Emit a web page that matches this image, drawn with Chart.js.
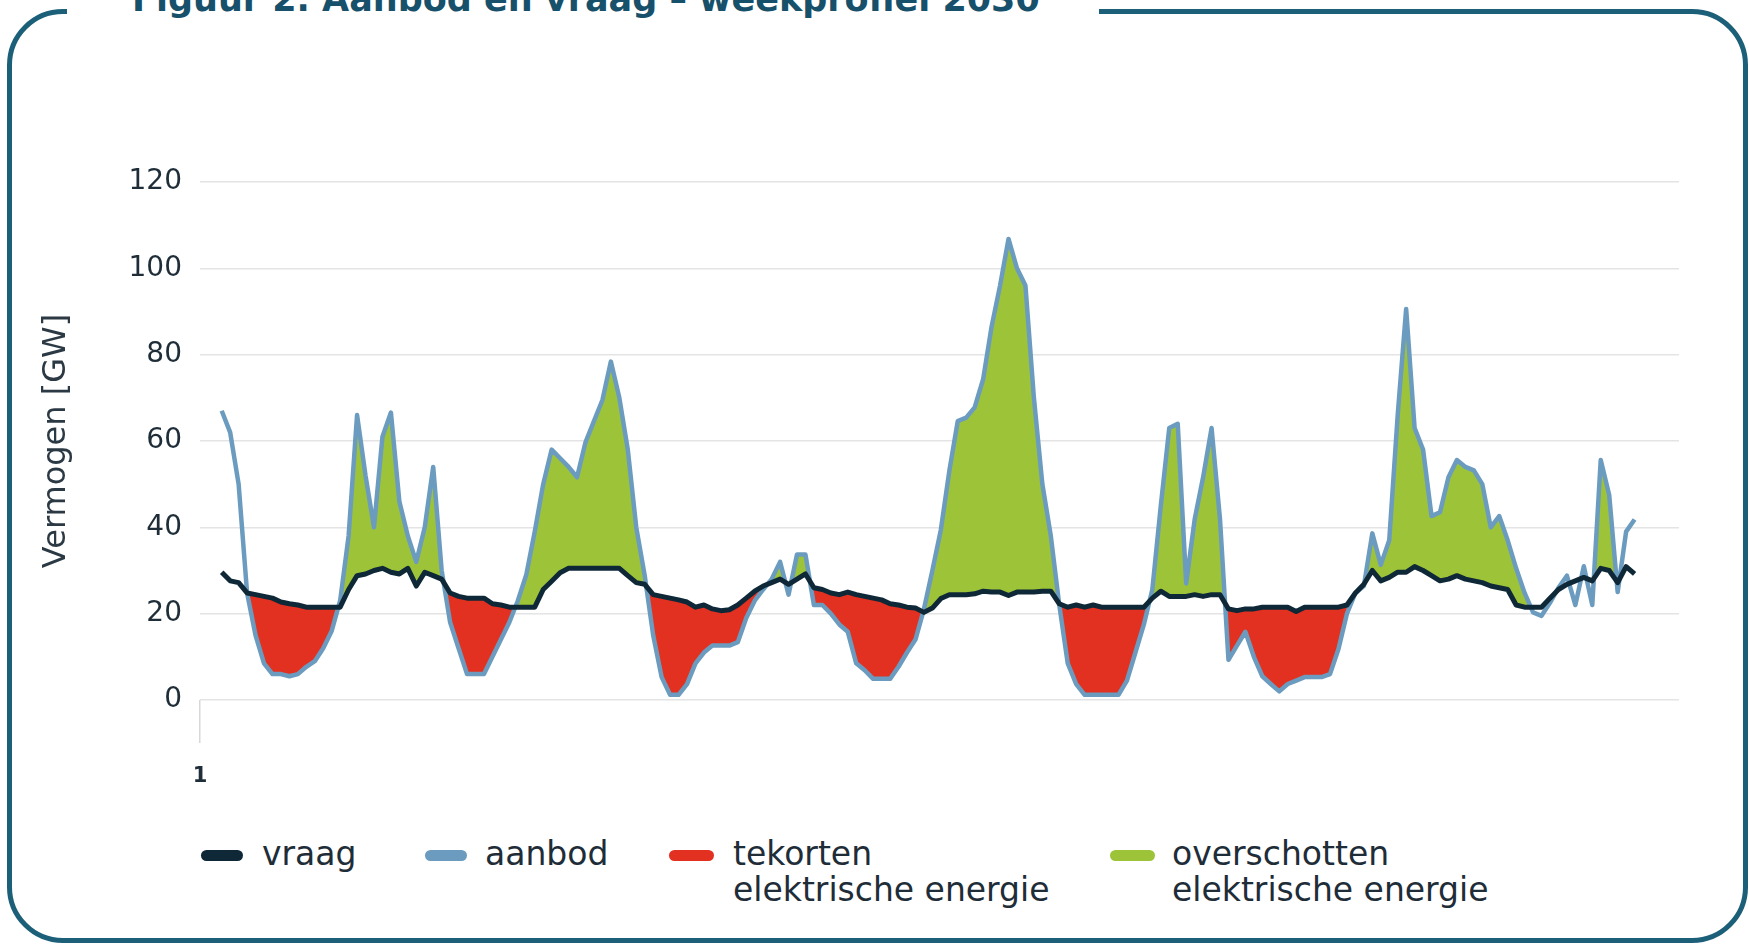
<!DOCTYPE html>
<html lang="nl">
<head>
<meta charset="utf-8">
<title>Figuur 2. Aanbod en vraag – weekprofiel 2030</title>
<script src="https://cdn.jsdelivr.net/npm/chart.js@4.4.1/dist/chart.umd.min.js"></script>
<style>
  html, body { margin: 0; padding: 0; background: #fff; }
  body {
    width: 1749px; height: 948px; position: relative; overflow: hidden;
    font-family: 'DejaVu Sans', sans-serif; color: #1e2d38;
  }
  .frame {
    position: absolute; left: 7px; top: 9px; width: 1731px; height: 924px;
    border: 5px solid #1c5f78; border-radius: 56px;
  }
  .title-gap {
    position: absolute; left: 67px; top: 0; width: 1032px; height: 30px; background: #fff;
  }
  .title-gap span {
    position: absolute; left: 65px; top: -18px; white-space: nowrap;
    font: bold 35px/35px 'DejaVu Sans', sans-serif; color: #17506a;
  }
  #chart { position: absolute; left: 0; top: 0; z-index: 2; }
  .swatch { position: absolute; top: 850px; height: 11px; border-radius: 6px; }
  .label {
    position: absolute; top: 836px; white-space: nowrap;
    font-size: 33px; line-height: 36px; color: #1e2d38;
  }
</style>
</head>
<body>
<div class="frame"></div>
<div class="title-gap"><span>Figuur 2. Aanbod en vraag – weekprofiel 2030</span></div>
<canvas id="chart" width="1749" height="948"></canvas>

<div class="swatch" style="left:201px;width:42px;background:#0f2837"></div>
<div class="label" style="left:262px">vraag</div>
<div class="swatch" style="left:425px;width:42px;background:#6b9cbf"></div>
<div class="label" style="left:485px">aanbod</div>
<div class="swatch" style="left:669px;width:45px;background:#e23021"></div>
<div class="label" style="left:733px">tekorten<br>elektrische energie</div>
<div class="swatch" style="left:1110px;width:45px;background:#9dc439"></div>
<div class="label" style="left:1172px">overschotten<br>elektrische energie</div>

<script>
// uurwaarden (GW) voor een week, uur 1 t/m 168
const aanbod = [
  67, 62, 50, 24.8, 15, 8.5, 6, 6, 5.5, 6, 7.7, 9,
  12, 16, 23, 38, 66, 52, 40, 61, 66.6, 46, 38, 32,
  40, 54, 30, 18, 12, 6, 6, 6, 10, 14, 18, 23,
  29, 39, 50, 58, 56, 54, 51.6, 59.7, 64.6, 69.5, 78.4, 70,
  58, 40, 28.8, 15, 5.3, 1.2, 1.2, 3.7, 8.5, 11, 12.6, 12.6,
  12.6, 13.4, 19, 23, 25.6, 28, 32, 24.4, 33.7, 33.7, 22, 22,
  20, 17.5, 15.8, 8.5, 6.9, 4.9, 4.9, 4.9, 7.7, 11, 14, 21,
  30, 39.4, 53, 64.6, 65.4, 67.8, 74.3, 86.5, 96, 106.8, 100, 96,
  70, 50, 38, 22, 8.5, 3.7, 1.2, 1.2, 1.2, 1.2, 1.2, 4.5,
  11, 17.5, 25.6, 45, 63, 64, 27, 41.8, 51.6, 63, 41.8, 9.3,
  12.6, 15.8, 10, 5.5, 3.7, 2, 3.7, 4.5, 5.3, 5.3, 5.3, 6,
  11.8, 20, 24.8, 26.4, 38.6, 31.3, 37, 66, 90.6, 63, 58, 42.6,
  43.5, 51.6, 55.6, 54, 53.2, 50, 40, 42.6, 37, 30.5, 24.8, 20.3,
  19.5, 22.5, 26, 28.8, 22, 31, 22, 55.6, 47.5, 25, 39, 41.8
];

const vraag = [
  29.6, 27.6, 27.2, 24.8, 24.4, 24, 23.6, 22.7, 22.3, 22, 21.5, 21.5,
  21.5, 21.5, 21.5, 25.6, 28.8, 29.2, 30, 30.5, 29.6, 29.2, 30.5, 26.4,
  29.6, 28.8, 28, 24.8, 24, 23.6, 23.6, 23.6, 22.3, 22, 21.5, 21.5,
  21.5, 21.5, 25.6, 27.5, 29.5, 30.5, 30.5, 30.5, 30.5, 30.5, 30.5, 30.5,
  28.8, 27.2, 26.8, 24.4, 24, 23.6, 23.2, 22.7, 21.5, 22, 21.1, 20.7,
  20.9, 22, 23.6, 25.2, 26.4, 27.2, 28, 26.8, 28, 29.2, 26, 25.6,
  24.8, 24.4, 25, 24.4, 24, 23.6, 23.2, 22.3, 22, 21.5, 21.3, 20.3,
  21.3, 23.5, 24.4, 24.4, 24.4, 24.6, 25.2, 25, 25, 24.2, 25, 25,
  25, 25.2, 25.2, 22.3, 21.5, 22, 21.5, 22, 21.5, 21.5, 21.5, 21.5,
  21.5, 21.5, 23.6, 25.2, 24, 24, 24, 24.4, 24, 24.4, 24.4, 21.1,
  20.7, 21.1, 21.1, 21.5, 21.5, 21.5, 21.5, 20.5, 21.5, 21.5, 21.5, 21.5,
  21.5, 22, 24.8, 26.8, 30, 27.6, 28.4, 29.6, 29.6, 30.9, 30, 28.8,
  27.6, 28, 28.8, 28, 27.6, 27.2, 26.4, 26, 25.6, 22, 21.5, 21.5,
  21.5, 23.6, 25.6, 26.8, 27.6, 28.4, 27.6, 30.5, 30, 27.2, 30.9, 29.2
];

// uren waarop het origineel geen tekort/overschot-vlak tekent
const zonderVlak = [1, 2, 3, 157, 158, 159, 160, 161, 162, 167, 168];

const uren = aanbod.map((_, i) => i + 1);
const xTickLabels = ['1'];
const yTitle = 'Vermogen [GW]';

const toPoints = values => values.map((v, i) => ({ x: uren[i], y: v }));
const vlakPoints = toPoints(aanbod).map(p => zonderVlak.includes(p.x) ? { x: p.x, y: null } : p);

Chart.defaults.font.family = "'DejaVu Sans', sans-serif";

const ctx = document.getElementById('chart').getContext('2d');
new Chart(ctx, {
  type: 'line',
  data: {
    datasets: [
      {
        label: 'vraag',
        data: toPoints(vraag),
        borderColor: '#0f2837',
        borderWidth: 5,
        pointRadius: 0,
        tension: 0,
        borderJoinStyle: 'round',
        fill: false
      },
      {
        label: 'aanbod',
        data: toPoints(aanbod),
        borderColor: '#6b9cbf',
        borderWidth: 4.5,
        pointRadius: 0,
        tension: 0,
        borderJoinStyle: 'round',
        fill: false
      },
      {
        label: 'tekorten / overschotten',
        data: vlakPoints,
        borderWidth: 0,
        borderColor: 'rgba(0,0,0,0)',
        pointRadius: 0,
        tension: 0,
        fill: { target: 0, above: '#9dc439', below: '#e23021' }
      }
    ]
  },
  options: {
    responsive: false,
    animation: false,
    devicePixelRatio: 1,
    layout: { padding: { top: 182, right: 70, bottom: 0, left: 0 } },
    plugins: {
      legend: { display: false },
      tooltip: { enabled: false }
    },
    scales: {
      x: {
        type: 'linear',
        min: -1.565,
        max: 173.25,
        border: { display: false },
        grid: { drawOnChartArea: false, drawTicks: true, tickLength: 43, color: '#d8d8d8', lineWidth: 1.5 },
        ticks: {
          padding: 21,
          color: '#1e2d38',
          font: { size: 21, weight: 'bold' },
          maxRotation: 0,
          callback: () => xTickLabels[0]
        },
        afterBuildTicks: axis => { axis.ticks = [{ value: axis.min }]; },
        afterFit: axis => { axis.height = 248; }
      },
      y: {
        min: 0,
        max: 120,
        border: { display: false },
        grid: { color: '#e4e4e4', lineWidth: 1.5, drawTicks: false },
        ticks: { stepSize: 20, padding: 18, color: '#1e2d38', font: { size: 28 } },
        title: {
          display: true,
          text: yTitle,
          color: '#2b3944',
          font: { size: 32 },
          padding: { top: 37, bottom: 0 }
        },
        afterFit: axis => { axis.width = 200; }
      }
    }
  }
});
</script>
</body>
</html>
